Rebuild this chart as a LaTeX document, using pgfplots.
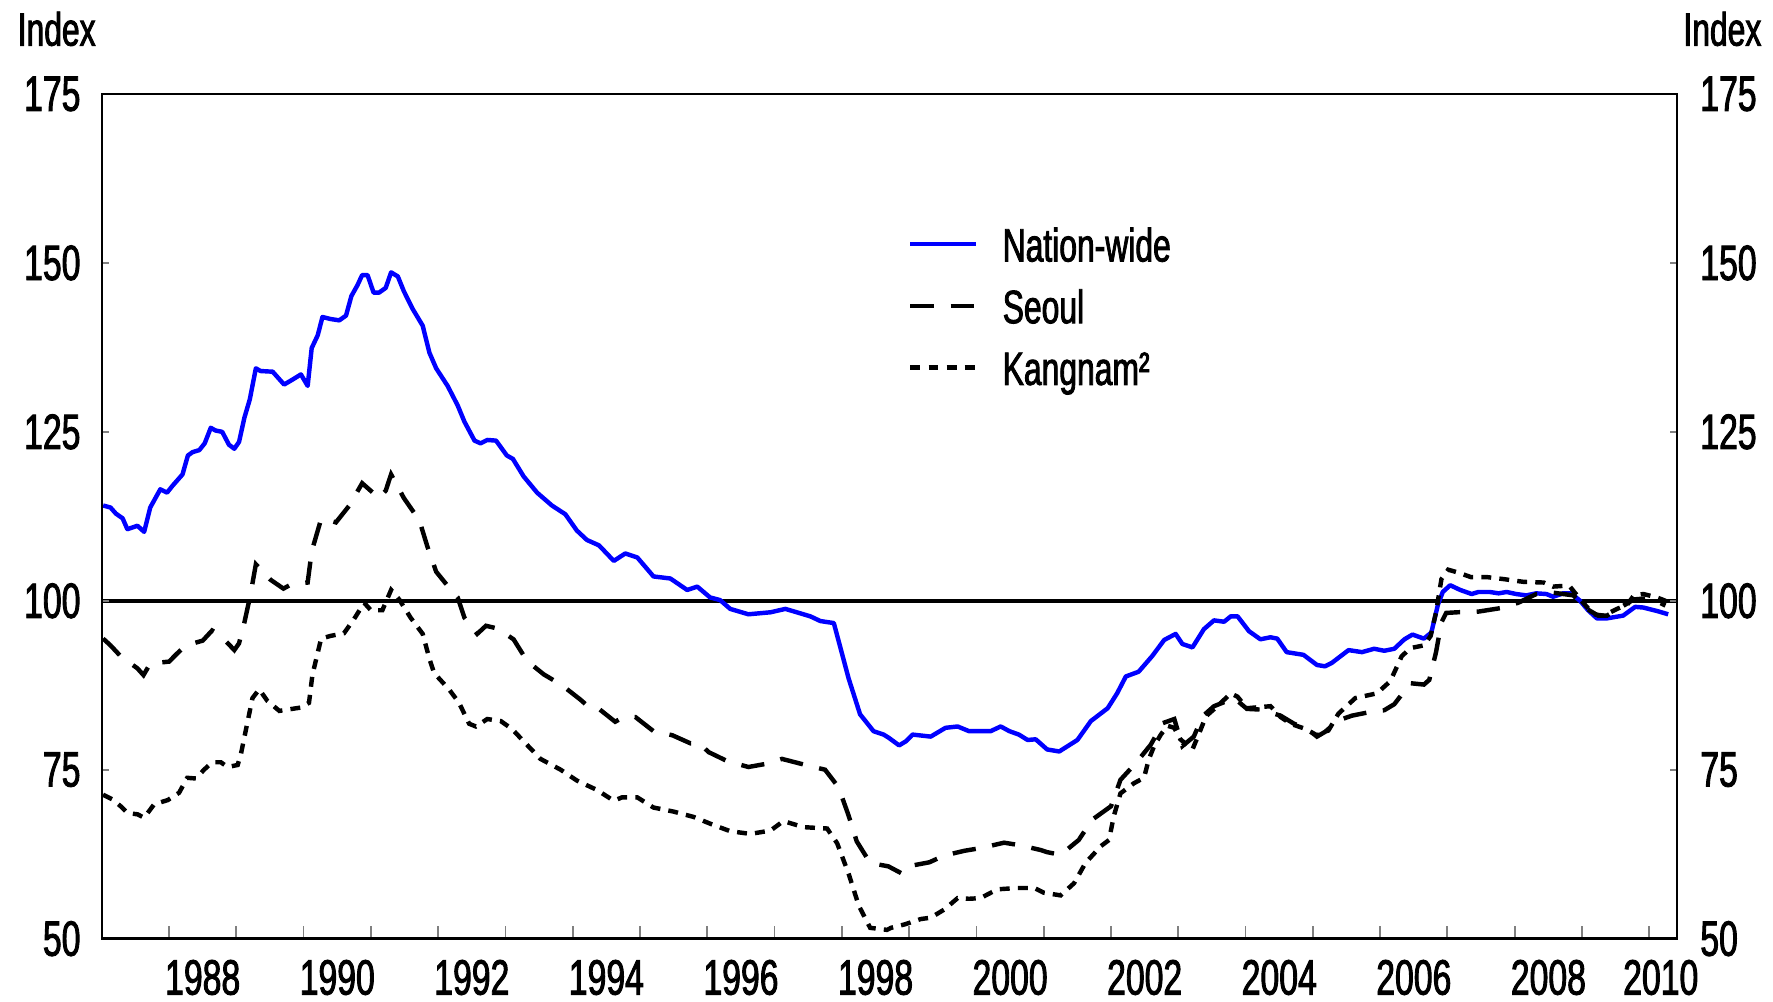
\documentclass[border=0pt]{standalone}
\usepackage{fontspec}
\setmainfont{Liberation Sans}[FakeStretch=0.68, FakeBold=1.8]
\usepackage{pgfplots}
\pgfplotsset{compat=1.18}
\newcommand{\tickfont}{\fontsize{14}{16}\selectfont}
\newcommand{\legfont}{\fontsize{13.2}{15}\selectfont}
\begin{document}
\begin{tikzpicture}
\useasboundingbox (-28.7pt,-17.6pt) rectangle (471.3pt,264.7pt);
\begin{axis}[name=main, at={(0pt,0pt)}, anchor=south west, scale only axis,
  width=444.2pt, height=238.2pt,
  xmin=1987, xmax=2010.41, ymin=50, ymax=175,
  axis line style={line width=0.7pt},
  xtick={1988,1989,...,2010}, xticklabels={}, xtick pos=bottom,
  tick align=inside, major tick length=3.7pt,
  xtick style={draw=gray, line width=0.5pt},
  ytick=\empty,
  legend style={draw=none, fill=none, at={(0.512,0.842)}, anchor=north west,
    inner sep=0pt, outer sep=0pt, row sep=5pt, font=\legfont,
    nodes={inner sep=0pt, text height=9.6pt, text depth=2.8pt}},
  legend cell align=left,
  legend image code/.code={\draw[#1] (0pt,1.5pt) -- (18.6pt,1.5pt); \path (25.4pt,1.5pt);},
]
\addplot[black, line width=1.15pt, forget plot] coordinates {(1987,100) (2010.41,100)};
\addplot[blue, line width=1.25pt, line join=round] coordinates {
(1987.02,114.1)(1987.13,113.8)(1987.21,112.9)(1987.31,112.2)(1987.38,110.6)(1987.53,111.1)(1987.63,110.2)(1987.72,113.8)(1987.87,116.5)(1987.97,116.0)
(1988.05,117.0)(1988.20,118.7)(1988.28,121.5)(1988.35,122.0)(1988.45,122.3)(1988.53,123.3)(1988.62,125.6)(1988.69,125.2)(1988.79,125.0)(1988.89,123.1)(1988.97,122.5)
(1989.04,123.5)(1989.12,127.1)(1989.20,129.8)(1989.29,134.4)(1989.36,134.0)(1989.54,133.9)(1989.71,132.0)(1989.83,132.7)(1989.96,133.5)
(1990.06,131.8)(1990.12,137.4)(1990.21,139.3)(1990.28,142.0)(1990.40,141.7)(1990.53,141.5)(1990.63,142.2)(1990.71,145.1)(1990.80,146.7)(1990.87,148.2)(1990.95,148.2)
(1991.04,145.6)(1991.12,145.6)(1991.22,146.3)(1991.30,148.6)(1991.40,148.0)(1991.49,145.8)(1991.62,143.2)(1991.77,140.7)(1991.87,136.7)(1991.97,134.4)
(1992.14,131.8)(1992.29,128.9)(1992.39,126.5)(1992.54,123.7)(1992.63,123.3)(1992.73,123.8)(1992.86,123.7)
(1993.02,121.5)(1993.11,121.0)(1993.27,118.4)(1993.47,116.0)(1993.69,114.1)(1993.89,112.8)
(1994.06,110.4)(1994.21,109.0)(1994.39,108.2)(1994.61,105.9)(1994.78,107.0)(1994.96,106.4)
(1995.20,103.6)(1995.45,103.3)(1995.70,101.6)(1995.85,102.1)
(1996.04,100.5)(1996.19,100.1)(1996.34,98.8)(1996.61,98.0)(1996.94,98.3)
(1997.16,98.8)(1997.53,97.7)(1997.68,97.0)(1997.88,96.7)
(1998.10,88.5)(1998.27,83.2)(1998.47,80.7)(1998.62,80.2)(1998.70,79.7)(1998.85,78.6)(1998.95,79.2)
(1999.05,80.2)(1999.32,79.9)(1999.54,81.2)(1999.72,81.4)(1999.89,80.7)
(2000.21,80.7)(2000.36,81.4)(2000.49,80.7)(2000.63,80.2)(2000.76,79.4)(2000.88,79.5)
(2001.05,78.0)(2001.23,77.7)(2001.50,79.4)(2001.70,82.2)(2001.95,84.1)
(2002.09,86.3)(2002.22,88.8)(2002.41,89.5)(2002.61,91.8)(2002.79,94.2)(2002.96,95.1)
(2003.06,93.6)(2003.21,93.1)(2003.38,95.8)(2003.53,97.1)(2003.68,96.9)(2003.78,97.7)(2003.88,97.7)
(2004.05,95.5)(2004.22,94.3)(2004.37,94.6)(2004.47,94.4)(2004.61,92.4)(2004.86,92.0)
(2005.06,90.5)(2005.18,90.3)(2005.28,90.8)(2005.53,92.7)(2005.73,92.4)(2005.91,92.9)
(2006.06,92.6)(2006.21,92.9)(2006.36,94.3)(2006.48,95.0)(2006.65,94.4)(2006.76,95.3)(2006.86,99.5)(2006.93,101.3)
(2007.04,102.3)(2007.19,101.6)(2007.36,101.0)(2007.46,101.3)(2007.63,101.3)(2007.76,101.1)(2007.88,101.3)
(2008.02,101.0)(2008.17,100.8)(2008.32,101.1)(2008.47,101.0)(2008.57,100.6)(2008.72,101.1)(2008.84,101.1)(2008.97,100.0)
(2009.09,98.6)(2009.22,97.4)(2009.37,97.4)(2009.61,97.8)(2009.79,99.1)(2009.91,99.0)
(2010.11,98.5)(2010.28,98.0)
};
\addlegendentry{Nation-wide}
\addplot[black, line width=1.25pt, dash pattern=on 6.6pt off 4.7pt] coordinates {
(1987.02,94.4)(1987.13,93.4)(1987.28,91.8)(1987.53,90.0)(1987.62,89.0)(1987.72,90.7)
(1988.00,91.0)(1988.12,92.2)(1988.25,93.4)(1988.50,94.1)(1988.64,95.6)(1988.76,94.9)(1988.97,92.7)
(1989.04,93.7)(1989.12,96.8)(1989.21,100.9)(1989.29,105.4)(1989.51,103.1)(1989.70,101.8)(1989.81,102.4)
(1990.06,102.7)(1990.12,107.3)(1990.26,112.1)(1990.35,112.0)(1990.48,111.6)(1990.68,114.1)(1990.87,117.4)
(1991.12,115.2)(1991.22,116.3)(1991.30,118.7)(1991.49,115.2)(1991.72,111.9)(1991.84,108.0)(1991.97,104.3)
(1992.19,101.6)(1992.29,100.5)(1992.39,97.5)(1992.58,95.1)(1992.71,96.3)(1992.88,95.9)
(1993.12,94.3)(1993.32,91.1)(1993.57,89.1)(1993.84,87.5)
(1994.11,85.4)(1994.26,84.1)(1994.39,84.0)(1994.63,82.1)(1994.76,82.8)(1994.93,82.8)
(1995.20,80.7)(1995.48,80.1)(1995.75,78.9)(1995.87,79.0)
(1996.02,77.6)(1996.29,76.3)(1996.61,75.4)(1996.89,75.9)
(1997.11,76.6)(1997.46,75.7)(1997.75,75.0)(1997.95,72.4)
(1998.10,68.2)(1998.22,64.4)(1998.42,61.2)(1998.69,60.7)(1998.88,59.7)(1998.98,60.7)
(1999.30,61.3)(1999.52,62.3)(1999.82,63.0)
(2000.06,63.4)(2000.41,64.2)(2000.66,63.8)(2000.96,63.1)
(2001.05,62.8)(2001.25,62.4)(2001.52,64.6)(2001.72,67.6)
(2002.00,69.6)(2002.14,73.5)(2002.37,76.0)(2002.59,78.7)(2002.77,81.9)(2002.94,82.5)
(2003.06,78.5)(2003.23,79.9)(2003.36,82.9)(2003.53,84.4)(2003.83,85.6)
(2004.02,84.0)(2004.22,83.9)(2004.52,83.0)(2004.72,81.8)(2004.91,81.1)
(2005.06,79.9)(2005.18,80.6)(2005.38,82.3)(2005.58,83.0)(2005.93,83.7)
(2006.06,83.8)(2006.21,84.7)(2006.45,87.8)(2006.65,87.6)(2006.73,88.3)(2006.83,92.4)(2006.91,96.8)(2006.98,98.2)
(2007.15,98.3)(2007.46,98.4)(2007.78,98.9)
(2008.05,99.7)(2008.32,101.0)(2008.57,101.2)(2008.87,100.8)
(2009.07,98.8)(2009.24,97.8)(2009.37,97.8)(2009.57,99.0)(2009.77,100.2)
(2010.01,100.4)(2010.24,99.3)
};
\addlegendentry{Seoul}
\addplot[black, line width=1.25pt, dash pattern=on 2.8pt off 2.3pt] coordinates {
(1987.02,71.3)(1987.16,70.6)(1987.28,69.6)(1987.38,68.6)(1987.53,68.4)(1987.63,67.9)(1987.78,69.9)(1987.98,70.5)
(1988.15,71.6)(1988.27,73.8)(1988.40,73.7)(1988.52,75.0)(1988.64,76.1)(1988.77,76.1)(1988.87,75.4)
(1989.02,75.7)(1989.07,77.4)(1989.14,80.8)(1989.24,85.6)(1989.34,86.9)(1989.46,85.2)(1989.64,83.7)(1989.76,83.9)(1989.96,84.2)
(1990.08,84.9)(1990.13,89.0)(1990.26,94.4)(1990.40,94.8)(1990.60,95.2)(1990.75,97.3)(1990.90,99.7)
(1991.00,98.6)(1991.17,98.6)(1991.30,101.6)(1991.42,100.2)(1991.59,97.5)(1991.77,95.1)(1991.87,91.4)(1991.94,89.3)
(1992.16,86.9)(1992.31,84.9)(1992.46,81.8)(1992.56,81.4)(1992.73,82.5)(1992.93,82.2)
(1993.10,81.0)(1993.27,79.2)(1993.52,76.6)(1993.82,75.0)
(1994.06,73.4)(1994.36,72.0)(1994.61,70.4)(1994.73,70.9)(1994.96,70.9)
(1995.20,69.4)(1995.50,68.8)(1995.80,68.0)
(1996.07,66.9)(1996.34,65.9)(1996.64,65.5)(1996.94,66.0)
(1997.13,67.4)(1997.43,66.5)(1997.78,66.3)(1997.93,64.1)
(1998.10,59.6)(1998.25,54.9)(1998.42,51.6)(1998.67,51.3)(1998.73,51.6)(1998.93,52.1)
(1999.17,52.9)(1999.32,53.1)(1999.52,54.3)(1999.72,56.0)(1999.89,55.9)
(2000.06,56.0)(2000.31,57.3)(2000.61,57.5)(2000.86,57.5)
(2001.00,56.8)(2001.25,56.4)(2001.45,58.2)(2001.62,61.2)(2001.85,63.7)(2001.97,64.6)
(2002.04,68.1)(2002.14,71.5)(2002.34,73.0)(2002.49,73.8)(2002.56,76.5)(2002.64,78.5)(2002.74,80.2)(2002.84,81.5)(2002.94,81.2)
(2003.03,79.5)(2003.21,78.0)(2003.31,80.4)(2003.41,82.9)(2003.58,84.4)(2003.78,86.3)(2003.88,85.8)
(2004.02,84.1)(2004.37,84.4)(2004.52,82.8)(2004.67,81.8)(2004.87,81.1)
(2005.06,80.1)(2005.23,80.8)(2005.38,83.3)(2005.63,85.6)(2005.95,86.3)
(2006.15,88.1)(2006.32,91.8)(2006.45,93.0)(2006.65,93.4)(2006.75,94.8)(2006.83,98.3)(2006.91,103.2)
(2007.01,104.6)(2007.15,104.2)(2007.35,103.5)(2007.59,103.5)(2007.84,103.2)
(2008.13,102.8)(2008.43,102.7)(2008.57,102.1)(2008.72,102.2)(2008.82,102.1)(2008.99,100.0)
(2009.17,98.0)(2009.32,97.8)(2009.52,98.8)(2009.67,99.4)(2009.77,100.8)(2009.91,101.0)
(2010.11,100.5)(2010.24,100.0)
};
\addlegendentry{Kangnam²}
\end{axis}
\begin{axis}[at={(0pt,0pt)}, anchor=south west, scale only axis,
  width=444.2pt, height=238.2pt,
  xmin=1987, xmax=2010.41, ymin=50, ymax=175,
  axis line style={line width=0.7pt},
  xtick={1988.5,1990.5,1992.5,1994.5,1996.5,1998.5,2000.5,2002.5,2004.5,2006.5,2008.5,2010.17},
  xticklabels={1988,1990,1992,1994,1996,1998,2000,2002,2004,2006,2008,2010},
  xtick pos=bottom, xtick style={draw=none},
  xticklabel style={font=\tickfont, anchor=north, inner sep=0pt, yshift=-5.8pt},
  ytick={50,75,100,125,150,175}, yticklabels={50,75,100,125,150,175},
  ytick pos=both, yticklabel pos=left, tick align=inside, major tick length=1.9pt,
  ytick style={line width=0.5pt},
  yticklabel style={font=\tickfont, anchor=east, inner sep=0pt, xshift=-5.8pt},
]
\end{axis}
\begin{axis}[at={(0pt,0pt)}, anchor=south west, scale only axis,
  width=444.2pt, height=238.2pt,
  xmin=1987, xmax=2010.41, ymin=50, ymax=175,
  hide x axis, axis line style={draw=none},
  ytick={50,75,100,125,150,175}, yticklabels={50,75,100,125,150,175},
  ytick pos=right, yticklabel pos=right, ytick style={draw=none},
  yticklabel style={font=\tickfont, anchor=west, inner sep=0pt, xshift=6.4pt},
]
\end{axis}
\node[anchor=north west, inner sep=0pt, font=\legfont] at ([xshift=-23.9pt,yshift=23.4pt]main.north west) {Index};
\node[anchor=north east, inner sep=0pt, font=\legfont] at ([xshift=24pt,yshift=23.4pt]main.north east) {Index};
\end{tikzpicture}
\end{document}
